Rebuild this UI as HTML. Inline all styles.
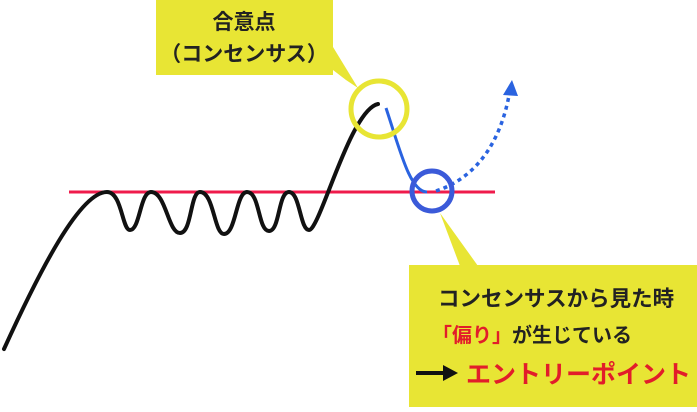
<!DOCTYPE html>
<html><head><meta charset="utf-8"><style>
body{margin:0;background:#fff;width:697px;height:407px;overflow:hidden;font-family:"Liberation Sans","Noto Sans CJK JP",sans-serif;}
</style></head><body>
<svg width="697" height="407" viewBox="0 0 697 407" xmlns="http://www.w3.org/2000/svg">
<rect x="156" y="0" width="177" height="75" fill="#e8e534"/>
<polygon points="333,47 358,88 346,80 333,70" fill="#e8e534"/>
<text x="244" y="29" font-size="21" font-weight="bold" text-anchor="middle" fill="#222" font-family="Liberation Sans,Noto Sans CJK JP,sans-serif">合意点</text>
<text x="244" y="61" font-size="21" font-weight="bold" text-anchor="middle" fill="#222" font-family="Liberation Sans,Noto Sans CJK JP,sans-serif">（コンセンサス）</text>
<line x1="69" y1="192" x2="495" y2="192" stroke="#ef1b4b" stroke-width="3"/>
<path d="M4,349 C40,270 80,192 107,192 C122,192 122,230 130,230 C140,230 140,192 151,192 C166,192 168,233 180,233 C192,233 190,192 200,192 C214,192 214,234 224,234 C236,234 236,192 247,192 C260,192 258,231 269,231 C280,231 278,192 289,192 C300,192 300,230 309,230 C320,230 350,110 378,104" fill="none" stroke="#111" stroke-width="4" stroke-linecap="round"/>
<path d="M386,108 C400,150 410,192 427,192" fill="none" stroke="#2a63e0" stroke-width="3"/>
<path d="M436,191 C470,180 500,150 510,90" fill="none" stroke="#2a63e0" stroke-width="3.5" stroke-dasharray="4,4"/>
<polygon points="512,80 503,95 518,96" fill="#2a63e0"/>
<ellipse cx="379" cy="109" rx="28" ry="28" fill="none" stroke="#e8e534" stroke-width="5"/>
<ellipse cx="432" cy="191" rx="20" ry="20" fill="none" stroke="#3b5ad9" stroke-width="5"/>
<polygon points="440,213 460,266 478,266" fill="#e8e534"/>
<rect x="409" y="265" width="288" height="142" fill="#e8e534"/>
<text x="438" y="306" font-size="21.5" font-weight="bold" fill="#222" font-family="Liberation Sans,Noto Sans CJK JP,sans-serif">コンセンサスから見た時</text>
<text x="432" y="342" font-size="20" font-weight="bold" fill="#222" font-family="Liberation Sans,Noto Sans CJK JP,sans-serif"><tspan fill="#e21d2a">「偏り」</tspan>が生じている</text>
<line x1="416" y1="373" x2="446" y2="373" stroke="#111" stroke-width="4"/>
<polygon points="458,373 443,365 443,381" fill="#111"/>
<text x="466" y="383" font-size="25" font-weight="bold" fill="#e21d2a" font-family="Liberation Sans,Noto Sans CJK JP,sans-serif">エントリーポイント</text>
</svg>
</body></html>
